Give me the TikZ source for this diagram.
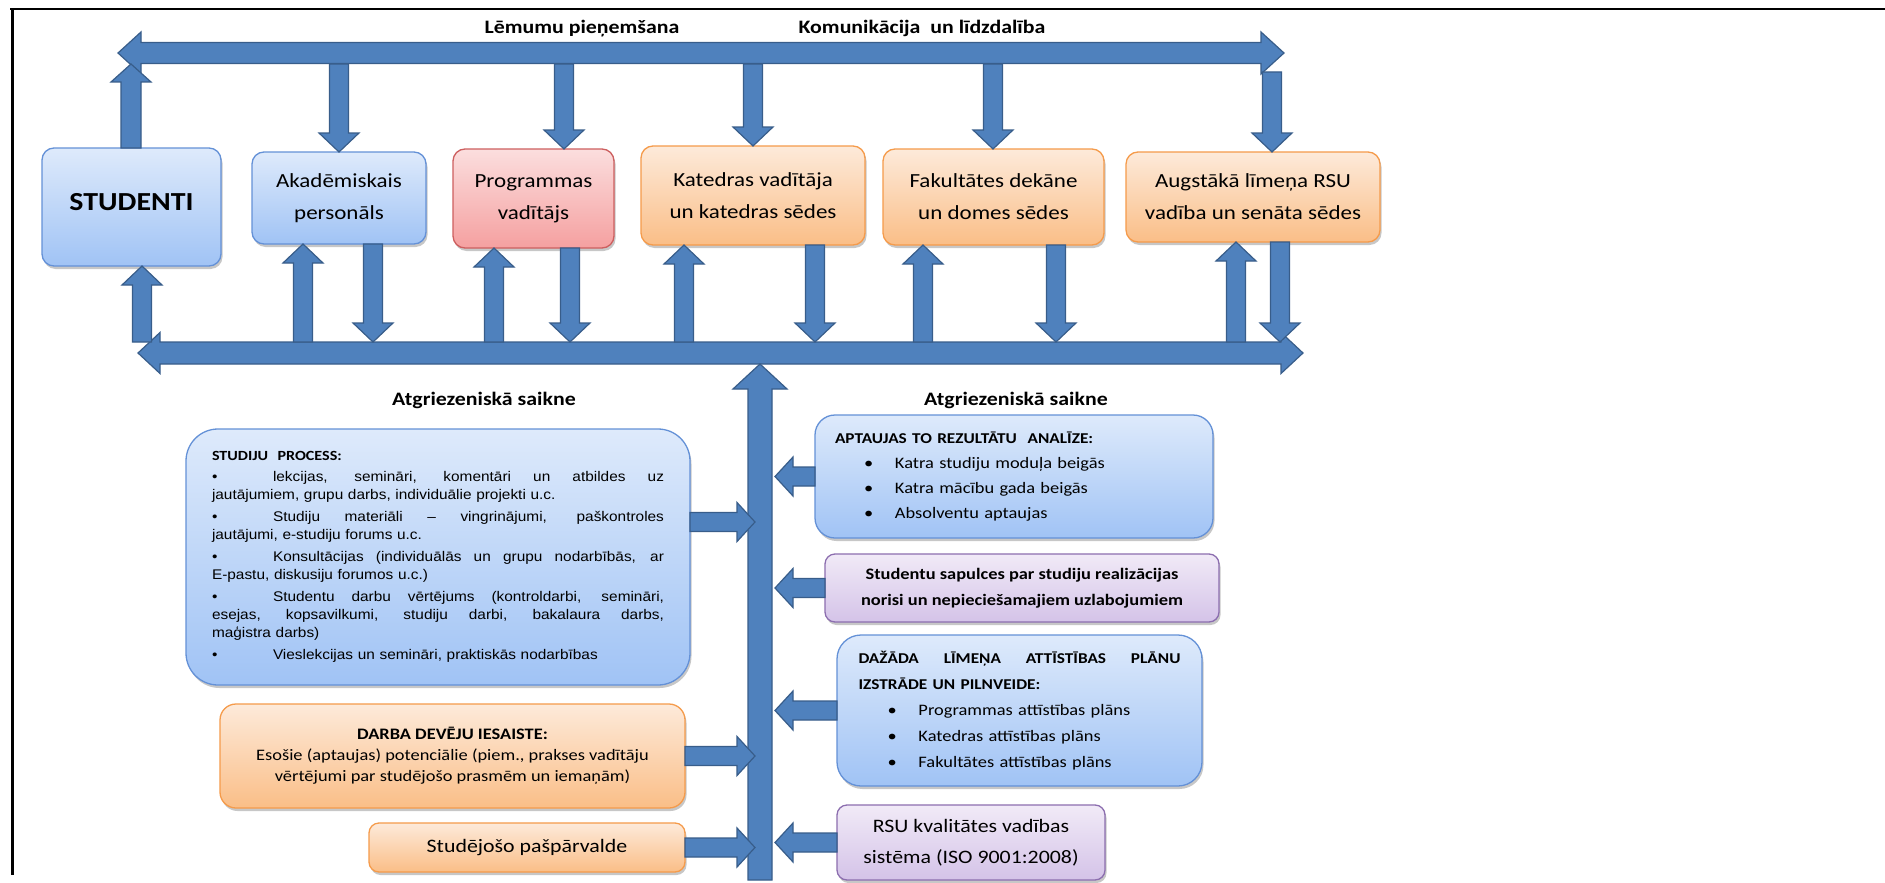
\documentclass[tikz,border=0pt]{standalone}
\usepackage{fontspec}
\setmainfont{Carlito}[FakeStretch=1.15]
\newfontfamily\arialf{Liberation Sans}[FakeStretch=1.1]
\usetikzlibrary{calc,shadows}

\definecolor{arrowfill}{RGB}{79,129,189}
\definecolor{arrowline}{RGB}{56,93,138}
\definecolor{blueT}{RGB}{222,234,251}
\definecolor{blueBt}{RGB}{160,195,245}
\definecolor{blueLn}{RGB}{100,145,215}
\definecolor{redT}{RGB}{251,222,222}
\definecolor{redBt}{RGB}{245,160,160}
\definecolor{redLn}{RGB}{205,95,95}
\definecolor{orT}{RGB}{253,234,218}
\definecolor{orBt}{RGB}{250,190,135}
\definecolor{orLn}{RGB}{245,155,75}
\definecolor{puT}{RGB}{241,234,247}
\definecolor{puBt}{RGB}{212,195,232}
\definecolor{puLn}{RGB}{140,110,175}

% single block arrow: #1 tail, #2 tip, #3 shaft half width, #4 head half width, #5 head length
\newcommand\blockarr[5]{%
 \filldraw[arr] let \p1=#1, \p2=#2,
  \n3={veclen(\x2-\x1,\y2-\y1)},
  \n1={(\x2-\x1)/\n3}, \n2={(\y2-\y1)/\n3},
  \n4={\n3-#5}
 in ({\x1+#3*(\n2)*1pt},{\y1-#3*(\n1)*1pt})
 -- ({\x1+\n4*(\n1)*1pt+#3*(\n2)*1pt},{\y1+\n4*(\n2)*1pt-#3*(\n1)*1pt})
 -- ({\x1+\n4*(\n1)*1pt+#4*(\n2)*1pt},{\y1+\n4*(\n2)*1pt-#4*(\n1)*1pt})
 -- (\x2,\y2)
 -- ({\x1+\n4*(\n1)*1pt-#4*(\n2)*1pt},{\y1+\n4*(\n2)*1pt+#4*(\n1)*1pt})
 -- ({\x1+\n4*(\n1)*1pt-#3*(\n2)*1pt},{\y1+\n4*(\n2)*1pt+#3*(\n1)*1pt})
 -- ({\x1-#3*(\n2)*1pt},{\y1+#3*(\n1)*1pt})
 -- cycle;}

% double-headed block arrow
\newcommand\dblarr[5]{%
 \filldraw[arr] let \p1=#1, \p2=#2,
  \n3={veclen(\x2-\x1,\y2-\y1)},
  \n1={(\x2-\x1)/\n3}, \n2={(\y2-\y1)/\n3},
  \n4={\n3-#5}, \n5={#5}
 in (\x1,\y1)
 -- ({\x1+\n5*(\n1)*1pt+#4*(\n2)*1pt},{\y1+\n5*(\n2)*1pt-#4*(\n1)*1pt})
 -- ({\x1+\n5*(\n1)*1pt+#3*(\n2)*1pt},{\y1+\n5*(\n2)*1pt-#3*(\n1)*1pt})
 -- ({\x1+\n4*(\n1)*1pt+#3*(\n2)*1pt},{\y1+\n4*(\n2)*1pt-#3*(\n1)*1pt})
 -- ({\x1+\n4*(\n1)*1pt+#4*(\n2)*1pt},{\y1+\n4*(\n2)*1pt-#4*(\n1)*1pt})
 -- (\x2,\y2)
 -- ({\x1+\n4*(\n1)*1pt-#4*(\n2)*1pt},{\y1+\n4*(\n2)*1pt+#4*(\n1)*1pt})
 -- ({\x1+\n4*(\n1)*1pt-#3*(\n2)*1pt},{\y1+\n4*(\n2)*1pt+#3*(\n1)*1pt})
 -- ({\x1+\n5*(\n1)*1pt-#3*(\n2)*1pt},{\y1+\n5*(\n2)*1pt+#3*(\n1)*1pt})
 -- ({\x1+\n5*(\n1)*1pt-#4*(\n2)*1pt},{\y1+\n5*(\n2)*1pt+#4*(\n1)*1pt})
 -- cycle;}

\newcommand\bul{\makebox[61pt][l]{\textbullet}}
\newcommand\blt{\hspace*{29pt}\makebox[31pt][l]{\textbullet}}
% justified single line of given width
\newcommand\jl[2]{\makebox[#1][s]{\spaceskip=.3em plus 1fil\relax\xspaceskip=\spaceskip #2}}

\begin{document}
\begin{tikzpicture}[x=1pt,y=-1pt,
  arr/.style={fill=arrowfill, draw=arrowline, line width=1.2pt, line join=miter},
  basebox/.style={rounded corners=12pt, line width=1.3pt, anchor=north west,
    inner sep=0pt, outer sep=0pt, align=center,
    drop shadow={shadow xshift=1.5pt, shadow yshift=-3pt, opacity=0.22, fill=black}},
  bluebox/.style={basebox, draw=blueLn, top color=blueT, bottom color=blueBt},
  redbox/.style={basebox, draw=redLn, top color=redT, bottom color=redBt},
  orbox/.style={basebox, draw=orLn, top color=orT, bottom color=orBt},
  pubox/.style={basebox, draw=puLn, top color=puT, bottom color=puBt},
  boxtext/.style={font=\fontsize{20}{32}\selectfont},
  lbl/.style={font=\fontsize{19}{22}\selectfont\bfseries, inner sep=0pt}]

\useasboundingbox (0,0) rectangle (1885,883);
\fill[white] (0,0) rectangle (1885,883);

% frame
\draw[line width=2.5pt] (10,9) -- (1885,9);
\draw[line width=3pt] (12,9) -- (12,875);

% top row boxes
\node[bluebox, minimum width=179, minimum height=118,
  font=\fontsize{26}{30}\selectfont\bfseries] (studenti) at (42,148) {\raisebox{10pt}{STUDENTI}};
\node[bluebox, boxtext, minimum width=174, minimum height=92] (akad) at (252,152) {Akadēmiskais\\personāls};
\node[redbox, boxtext, minimum width=161, minimum height=99] (prog) at (453,149) {Programmas\\vadītājs};
\node[orbox, boxtext, minimum width=224, minimum height=99] (kat) at (641,146) {Katedras vadītāja\\un katedras sēdes};
\node[orbox, boxtext, minimum width=221, minimum height=96] (fak) at (883,149) {Fakultātes dekāne\\un domes sēdes};
\node[orbox, boxtext, minimum width=254, minimum height=90] (augst) at (1126,152) {Augstākā līmeņa RSU\\vadība un senāta sēdes};

% lower left boxes
\node[bluebox, rounded corners=32pt, minimum width=504, minimum height=256, text width=452,
  align=left, font=\arialf\fontsize{14}{18}\selectfont] (studiju) at (186,429) {%
{\rmfamily\bfseries STUDIJU\ \ PROCESS:}\\[3pt]
\jl{452pt}{\bul lekcijas, semināri, komentāri un atbildes uz}\\
jautājumiem, grupu darbs, individuālie projekti u.c.\\[4pt]
\jl{452pt}{\bul Studiju materiāli – vingrinājumi, paškontroles}\\
jautājumi, e-studiju forums u.c.\\[4pt]
\jl{452pt}{\bul Konsultācijas (individuālās un grupu nodarbībās, ar}\\
E-pastu, diskusiju forumos u.c.)\\[4pt]
\jl{452pt}{\bul Studentu darbu vērtējums (kontroldarbi, semināri,}\\
\jl{452pt}{esejas, kopsavilkumi, studiju darbi, bakalaura darbs,}\\
maģistra darbs)\\[4pt]
\bul Vieslekcijas un semināri, praktiskās nodarbības};

\node[orbox, rounded corners=16pt, minimum width=465, minimum height=104,
  font=\fontsize{16}{21}\selectfont] (darba) at (220,704) {%
\textbf{DARBA DEVĒJU IESAISTE:}\\Esošie (aptaujas) potenciālie (piem., prakses vadītāju\\vērtējumi par studējošo prasmēm un iemaņām)};
\node[orbox, rounded corners=10pt, minimum width=316, minimum height=49,
  font=\fontsize{19}{24}\selectfont] (studejoso) at (369,823) {Studējošo pašpārvalde};

% lower right boxes
\node[bluebox, rounded corners=20pt, minimum width=398, minimum height=123, text width=358,
  align=left, font=\fontsize{16}{25}\selectfont] (aptaujas) at (815,415) {%
{\fontsize{15}{25}\selectfont\bfseries APTAUJAS TO REZULTĀTU\ \ ANALĪZE:}\\
\blt Katra studiju moduļa beigās\\
\blt Katra mācību gada beigās\\
\blt Absolventu aptaujas};
\node[pubox, rounded corners=10pt, minimum width=394, minimum height=68,
  font=\fontsize{16}{26}\selectfont\bfseries] (sapulces) at (825,554) {%
Studentu sapulces par studiju realizācijas\\norisi un nepieciešamajiem uzlabojumiem};
\node[bluebox, rounded corners=24pt, minimum width=365, minimum height=151, text width=322,
  align=left, font=\fontsize{16}{26}\selectfont] (dazada) at (837,635) {%
{\fontsize{15}{22}\selectfont\bfseries\jl{322pt}{DAŽĀDA LĪMEŅA ATTĪSTĪBAS PLĀNU}\\
IZSTRĀDE UN PILNVEIDE:}\\
\blt Programmas attīstības plāns\\
\blt Katedras attīstības plāns\\
\blt Fakultātes attīstības plāns};
\node[pubox, rounded corners=10pt, minimum width=268, minimum height=75,
  font=\fontsize{19}{31}\selectfont] (rsu) at (837,805) {RSU kvalitātes vadības\\sistēma (ISO 9001:2008)};

% bus coordinates
\coordinate (tbL) at (118,53);
\coordinate (tbR) at (1284,53);
\coordinate (tbB) at (0,64);
\coordinate (bbL) at (138,353);
\coordinate (bbR) at (1303,353);
\coordinate (bbT) at (0,342);
\coordinate (bbB) at (0,364);
\coordinate (augTop) at (1272,72);
\coordinate (cbase) at (760,880);
\coordinate (cL) at (755,0);
\coordinate (cR) at (775,0);
\coordinate (sE) at ($(studiju.east)+(0,-35)$);

% buses
\dblarr{(tbL)}{(tbR)}{10.5}{21}{23}
\dblarr{(bbL)}{(bbR)}{11}{20.5}{22}

% arrows between top bus and boxes
\blockarr{(131,0 |- studenti.north)}{(131,0 |- tbB)}{10}{20}{18}
\blockarr{(339,0 |- tbB)}{(339,0 |- akad.north)}{9.5}{20}{19}
\blockarr{(564,0 |- tbB)}{(564,0 |- prog.north)}{9.5}{20}{19}
\blockarr{(753,0 |- tbB)}{(753,0 |- kat.north)}{9.5}{20}{19}
\blockarr{(993,0 |- tbB)}{(993,0 |- fak.north)}{9.5}{20}{19}
\blockarr{(augTop)}{(1272,0 |- augst.north)}{9.5}{20}{19}

% arrows between boxes and bottom bus
\blockarr{(142,0 |- bbT)}{(142,0 |- studenti.south)}{9.5}{20}{19}
\blockarr{(303,0 |- bbT)}{(303,0 |- akad.south)}{9.5}{20}{19}
\blockarr{(373,0 |- akad.south)}{(373,0 |- bbT)}{9.5}{20}{19}
\blockarr{(494,0 |- bbT)}{(494,0 |- prog.south)}{9.5}{20}{19}
\blockarr{(570,0 |- prog.south)}{(570,0 |- bbT)}{9.5}{20}{19}
\blockarr{(684,0 |- bbT)}{(684,0 |- kat.south)}{9.5}{20}{19}
\blockarr{(815,0 |- kat.south)}{(815,0 |- bbT)}{9.5}{20}{19}
\blockarr{(923,0 |- bbT)}{(923,0 |- fak.south)}{9.5}{20}{19}
\blockarr{(1056,0 |- fak.south)}{(1056,0 |- bbT)}{9.5}{20}{19}
\blockarr{(1236,0 |- bbT)}{(1236,0 |- augst.south)}{9.5}{20}{19}
\blockarr{(1280,0 |- augst.south)}{(1280,0 |- bbT)}{9.5}{20}{19}

% central feedback arrow
\blockarr{(cbase)}{(760,0 |- bbB)}{12}{27}{25}

% feedback inputs
\blockarr{(sE)}{(cL |- sE)}{9.5}{19.5}{18}
\blockarr{(darba.east)}{(cL |- darba.east)}{9.5}{19.5}{18}
\blockarr{(studejoso.east)}{(cL |- studejoso.east)}{9.5}{19.5}{18}
\blockarr{(aptaujas.west)}{(cR |- aptaujas.west)}{9.5}{19.5}{18}
\blockarr{(sapulces.west)}{(cR |- sapulces.west)}{9.5}{19.5}{18}
\blockarr{(dazada.west)}{(cR |- dazada.west)}{9.5}{19.5}{18}
\blockarr{(rsu.west)}{(cR |- rsu.west)}{9.5}{19.5}{18}

% labels
\node[lbl] (lemumu) at (582,29) {Lēmumu pieņemšana};
\node[lbl] (komun) at (922,28) {Komunikācija\ \ un līdzdalība};
\node[lbl] (atgr1) at (484,400) {Atgriezeniskā saikne};
\node[lbl] (atgr2) at (1016,400) {Atgriezeniskā saikne};
\end{tikzpicture}
\end{document}
